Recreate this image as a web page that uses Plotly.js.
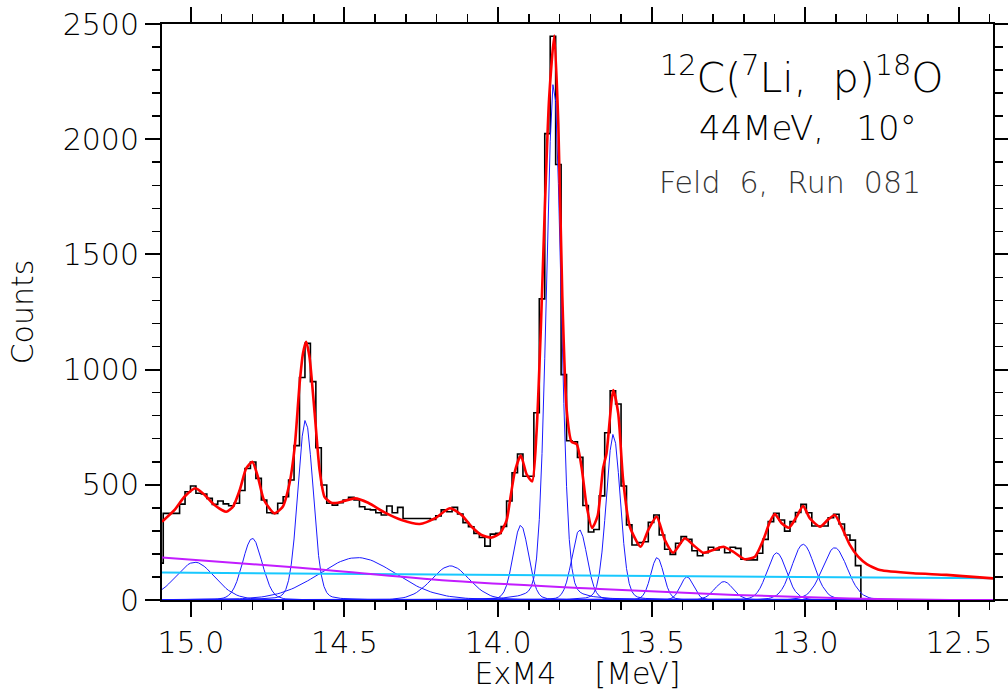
<!DOCTYPE html>
<html><head><meta charset="utf-8">
<script src="https://cdn.plot.ly/plotly-3.0.1.min.js"></script>
<style>html,body{margin:0;padding:0;background:#fff}#chart{width:1008px;height:691px}</style>
</head><body><div id="chart"></div>
<script>
// ---- histogram (counts per channel), channels run from high to low energy ----
const binStart = 15.1077;   // MeV, left edge of first channel
const binWidth = 0.017741;  // MeV per channel
const counts = [160,376,376,376,416,470,495,463,460,441,415,430,417,409,420,475,571,599,528,434,
  379,376,420,448,521,670,966,1114,948,661,499,420,412,422,434,446,434,405,394,391,
  379,369,408,379,402,354,354,354,354,354,350,365,391,383,402,373,336,318,289,271,
  234,286,289,319,430,552,634,537,537,813,1307,2024,2447,1890,978,691,687,619,410,295,
  306,452,726,908,851,495,326,239,249,253,337,369,282,220,198,246,275,263,214,192,
  205,229,217,229,205,229,224,177,174,174,203,263,340,376,347,299,340,380,415,379,
  321,321,321,357,372,330,282,260,149];

// ---- total fit (red) ----
const fitE = [15.094,15.053,15.021,14.985,14.955,14.923,14.885,14.863,14.841,14.820,14.800,14.782,14.762,
  14.728,14.701,14.679,14.662,14.646,14.635,14.625,14.614,14.597,14.581,14.565,14.543,14.521,14.466,14.423,
  14.368,14.314,14.255,14.206,14.157,14.119,14.086,14.054,14.021,13.994,13.972,13.962,13.945,13.926,13.907,
  13.889,13.875,13.861,13.848,13.834,13.817,13.804,13.791,13.777,13.761,13.744,13.728,13.712,13.694,13.676,
  13.658,13.647,13.625,13.609,13.593,13.571,13.536,13.511,13.484,13.457,13.430,13.392,13.365,13.332,13.300,
  13.267,13.235,13.197,13.164,13.137,13.115,13.099,13.077,13.053,13.028,13.007,12.985,12.952,12.925,12.904,
  12.882,12.855,12.828,12.800,12.773,12.757,12.649,12.540,12.432,12.389];
const fitC = [340,391,448,485,456,412,383,405,477,571,600,535,434,
  376,405,506,665,940,1071,1121,1056,810,564,448,422,422,441,422,
  379,347,330,354,398,369,318,282,271,289,347,425,560,627,545,
  515,724,1172,1695,2174,2450,2069,1322,829,687,676,574,410,313,365,
  574,637,911,810,521,318,231,304,362,260,205,268,239,205,217,
  231,210,177,188,260,340,373,333,314,362,408,354,318,350,369,
  318,239,188,156,138,130,116,109,98,94];

// ---- fitted peak components (blue): centre [MeV], height [counts], sigma [MeV] ----
const peakCentre = [14.987,14.800,14.627,14.458,14.155,13.926,13.819,13.735,13.625,13.482,13.385,13.265,13.093,13.007,12.904];
const peakHeight = [164,268,781,184,148,325,2250,305,720,185,101,80,205,242,227];
const peakSigma  = [0.065,0.032,0.025,0.128,0.062,0.025,0.0235,0.025,0.023,0.021,0.021,0.030,0.032,0.037,0.041];

// ---- background lines ----
const linBgE = [15.094,12.389];
const linBgC = [119,94];
const curvBgE = [15.094,14.645,14.157,13.669,13.229,12.855,12.529,12.389];
const curvBgC = [185,140,84,48,22,7,0,0];

// ---- axis ticks and titles ----
const xTicks = [15.0,14.5,14.0,13.5,13.0,12.5];
const yTicks = [0,500,1000,1500,2000,2500];
const xTitle = 'ExM4\u00a0\u00a0\u00a0\u00a0[MeV]';
const yTitle = 'Counts';

// histogram step outline
const histX = [], histY = [];
for (let i = 0; i < counts.length; i++) { histX.push(binStart - i*binWidth); histY.push(counts[i]); }
const lastEdge = binStart - counts.length*binWidth;
histX.push(lastEdge); histY.push(counts[counts.length-1]);
histX.push(lastEdge); histY.push(0);

const traces = [];
traces.push({x:histX, y:histY, mode:'lines', line:{shape:'hv', color:'#000', width:1.6}, hoverinfo:'skip'});

// component curves sampled on half-channel grid
const gridE = [];
for (let e = binStart; e >= 12.38; e -= binWidth/2) gridE.push(e);
const eta = 0.15;
for (let k = 0; k < peakCentre.length; k++) {
  const ys = gridE.map(e => {
    const d = (e - peakCentre[k]) / peakSigma[k];
    return peakHeight[k]*((1-eta)*Math.exp(-0.5*d*d) + eta/(1 + (d/1.1774)*(d/1.1774)));
  });
  traces.push({x:gridE, y:ys, mode:'lines', line:{color:'#1a1aff', width:1}, hoverinfo:'skip'});
}
traces.push({x:linBgE, y:linBgC, mode:'lines', line:{color:'#18c8ff', width:2}, hoverinfo:'skip'});
traces.push({x:curvBgE, y:curvBgC, mode:'lines', line:{color:'#c21cff', width:2, shape:'spline'}, hoverinfo:'skip'});
traces.push({x:fitE, y:fitC, mode:'lines', line:{color:'#ff0000', width:2.6, shape:'spline', smoothing:0.6}, hoverinfo:'skip'});

const tickFont = {family:'DejaVu Sans', size:30, color:'#000', weight:300};
const layout = {
  width:1008, height:691,
  margin:{l:162, r:15, t:24, b:91},
  paper_bgcolor:'#fff', plot_bgcolor:'#fff',
  showlegend:false,
  font:{family:'DejaVu Sans', color:'#000'},
  xaxis:{
    range:[15.094, 12.389], tickvals:xTicks, ticktext:xTicks.map(v=>v.toFixed(1)),
    ticks:'outside', ticklen:15, tickwidth:2, tickcolor:'#000',
    minor:{dtick:0.1, ticks:'outside', ticklen:8, tickwidth:1.5, tickcolor:'#000', showgrid:false},
    showline:true, linecolor:'#000', linewidth:2, mirror:'allticks',
    showgrid:false, zeroline:false, tickfont:tickFont,
    title:{text:xTitle, font:{family:'DejaVu Sans', size:30, color:'#000', weight:300}, standoff:12}
  },
  yaxis:{
    range:[0,2500], tickvals:yTicks, ticktext:yTicks.map(String),
    ticks:'outside', ticklen:15, tickwidth:2, tickcolor:'#000',
    minor:{dtick:100, ticks:'outside', ticklen:8, tickwidth:1.5, tickcolor:'#000', showgrid:false},
    showline:true, linecolor:'#000', linewidth:2, mirror:'allticks',
    showgrid:false, zeroline:false, tickfont:tickFont,
    title:{text:yTitle, font:{family:'DejaVu Sans', size:30, color:'#000', weight:300}, standoff:20}
  },
  annotations:[
    {xref:'paper', yref:'paper', x:0.770, y:0.911, xanchor:'center', yanchor:'middle', showarrow:false,
     text:'<sup>12</sup>C(<sup>7</sup>Li,\u00a0\u00a0p)<sup>18</sup>O', font:{family:'DejaVu Sans', size:41, color:'#000', weight:200}},
    {xref:'paper', yref:'paper', x:0.777, y:0.819, xanchor:'center', yanchor:'middle', showarrow:false,
     text:'44MeV,\u00a0\u00a0\u00a010\u00b0', font:{family:'DejaVu Sans', size:34, color:'#000', weight:200}},
    {xref:'paper', yref:'paper', x:0.756, y:0.724, xanchor:'center', yanchor:'middle', showarrow:false,
     text:'Feld\u00a0\u00a06,\u00a0\u00a0Run\u00a0\u00a0081', font:{family:'DejaVu Sans', size:30, color:'#333', weight:200}}
  ]
};
Plotly.newPlot('chart', traces, layout, {staticPlot:true, displayModeBar:false});
</script></body></html>
